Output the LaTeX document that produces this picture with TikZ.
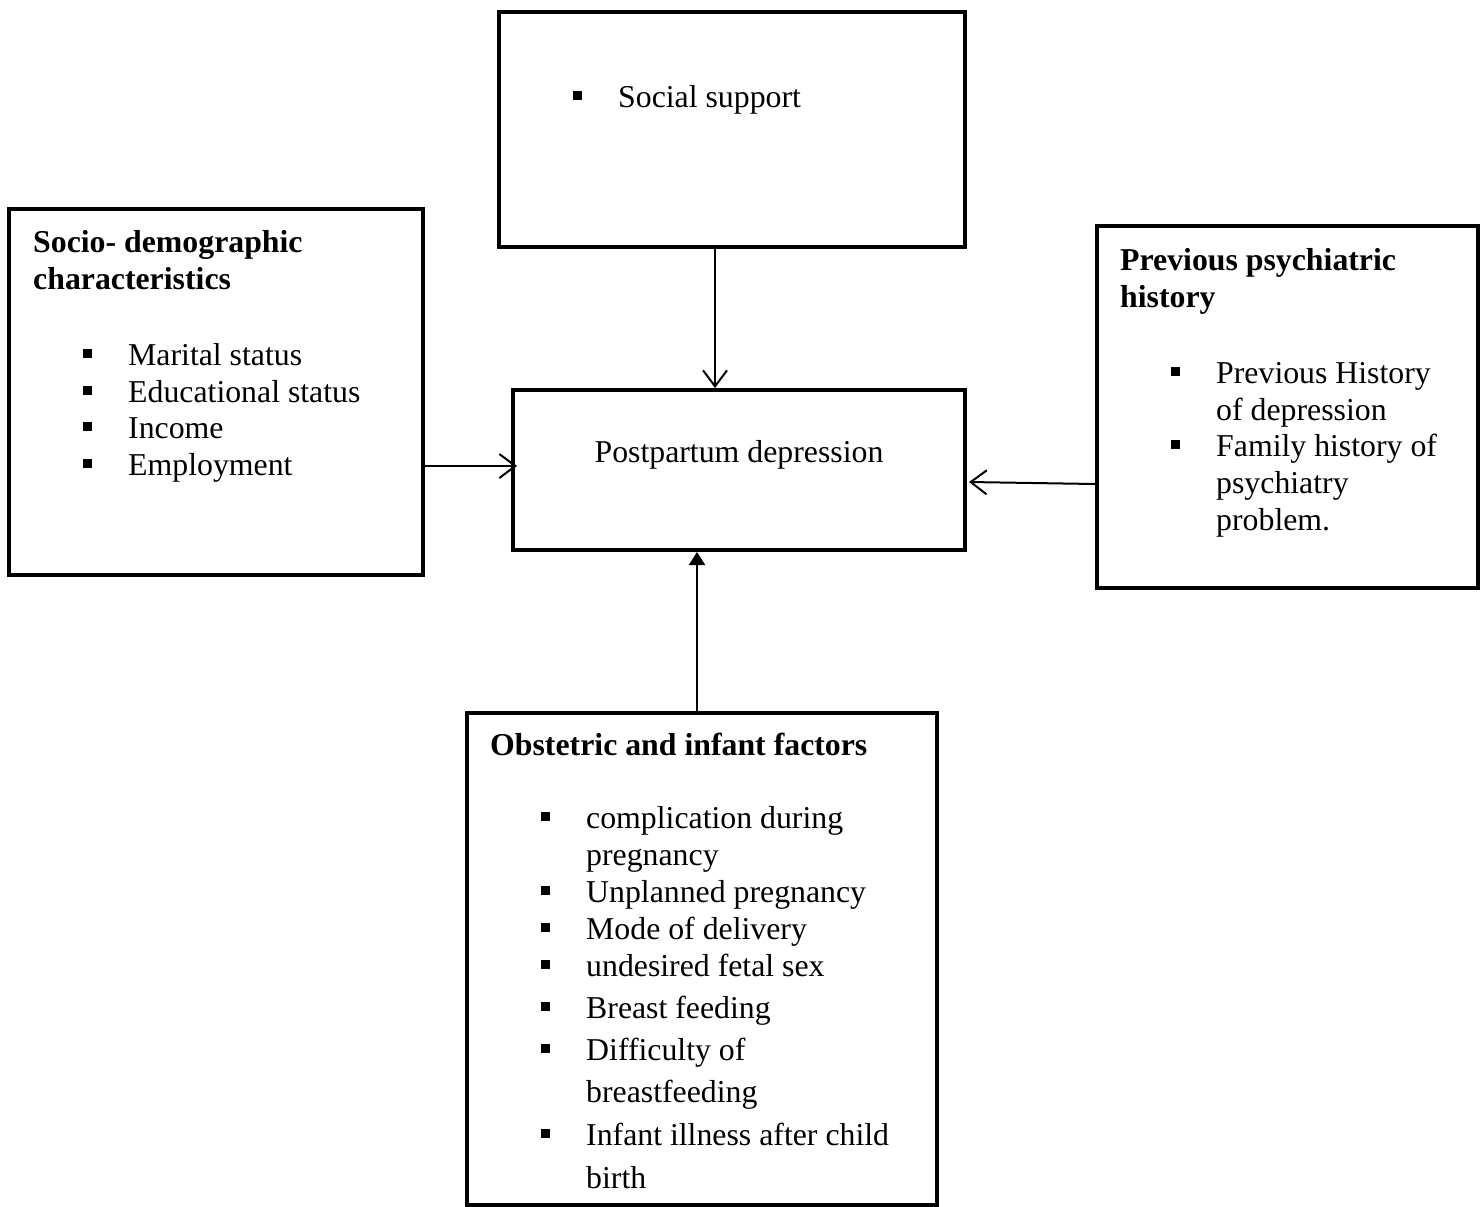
\documentclass[tikz,border=0pt]{standalone}
\usepackage{fontspec}
\setmainfont{Liberation Serif}
\usetikzlibrary{arrows.meta,calc}
\newcommand{\bulitem}[1]{\makebox[45pt][l]{\rule[7.5pt]{8.5pt}{8.5pt}}#1}
\tikzset{
  box/.style={draw, line width=4pt, rectangle, inner sep=0pt},
  txt/.style={anchor=base west, inner sep=0pt, font=\fontsize{31.8}{37}\selectfont},
  ttl/.style={txt, font=\fontsize{31.8}{37}\selectfont\bfseries},
  conn/.style={line width=2pt},
  openarr/.style={conn, -{Straight Barb[length=16pt,width=24pt,line width=2pt]}},
  fillarr/.style={conn, -{Triangle[length=13pt,width=16pt]}}
}
\begin{document}
\begin{tikzpicture}[x=1pt,y=-1pt]
\useasboundingbox[fill=white] (0,0) rectangle (1483,1207);
% boxes
\node[box, minimum width=466pt, minimum height=235pt] (ss) at (732,129.5) {};
\node[box, minimum width=414pt, minimum height=366pt] (sd) at (216,392) {};
\node[box, minimum width=452pt, minimum height=160pt] (pd) at (739,470) {};
\node[box, minimum width=381pt, minimum height=362pt] (pr) at (1287.5,407) {};
\node[box, minimum width=470pt, minimum height=492pt] (ob) at (702,959) {};
% texts
\node[txt] (s1) at (573,107) {\bulitem{Social support}};
\node[ttl] (d0) at (33,252) {Socio- demographic};
\node[ttl] (d00) at (33,289) {characteristics};
\node[txt] (d1) at (83,365) {\bulitem{Marital status}};
\node[txt] (d2) at (83,402) {\bulitem{Educational status}};
\node[txt] (d3) at (83,438) {\bulitem{Income}};
\node[txt] (d4) at (83,475) {\bulitem{Employment}};
\node[inner sep=0pt, font=\fontsize{31.8}{37}\selectfont] (pdt) at (739,455) {Postpartum depression};
\node[ttl] (p0) at (1120,270) {Previous psychiatric};
\node[ttl] (p00) at (1120,307) {history};
\node[txt] (p1) at (1171,383) {\bulitem{Previous History}};
\node[txt] (p2) at (1216,420) {of depression};
\node[txt] (p3) at (1171,456) {\bulitem{Family history of}};
\node[txt] (p4) at (1216,493) {psychiatry};
\node[txt] (p5) at (1216,530) {problem.};
\node[ttl] (o0) at (490,755) {Obstetric and infant factors};
\node[txt] (o1) at (541,828) {\bulitem{complication during}};
\node[txt] (o2) at (586,865) {pregnancy};
\node[txt] (o3) at (541,902) {\bulitem{Unplanned pregnancy}};
\node[txt] (o4) at (541,939) {\bulitem{Mode of delivery}};
\node[txt] (o5) at (541,976) {\bulitem{undesired fetal sex}};
\node[txt] (o6) at (541,1018) {\bulitem{Breast feeding}};
\node[txt] (o7) at (541,1060) {\bulitem{Difficulty of}};
\node[txt] (o8) at (586,1102) {breastfeeding};
\node[txt] (o9) at (541,1145) {\bulitem{Infant illness after child}};
\node[txt] (o10) at (586,1188) {birth};
% connectors
\draw[openarr] ($(ss.south)+(-17,0)$) -- ($(pd.north)+(-24,0)$);
\draw[openarr] ($(sd.east)+(0,74)$) -- ($(pd.west)+(6,-4)$);
\draw[openarr] ($(pr.west)+(0,77)$) -- ($(pd.east)+(2,12)$);
\draw[fillarr] ($(ob.north)+(-5,0)$) -- ($(pd.south)+(-42,0)$);
\end{tikzpicture}
\end{document}
